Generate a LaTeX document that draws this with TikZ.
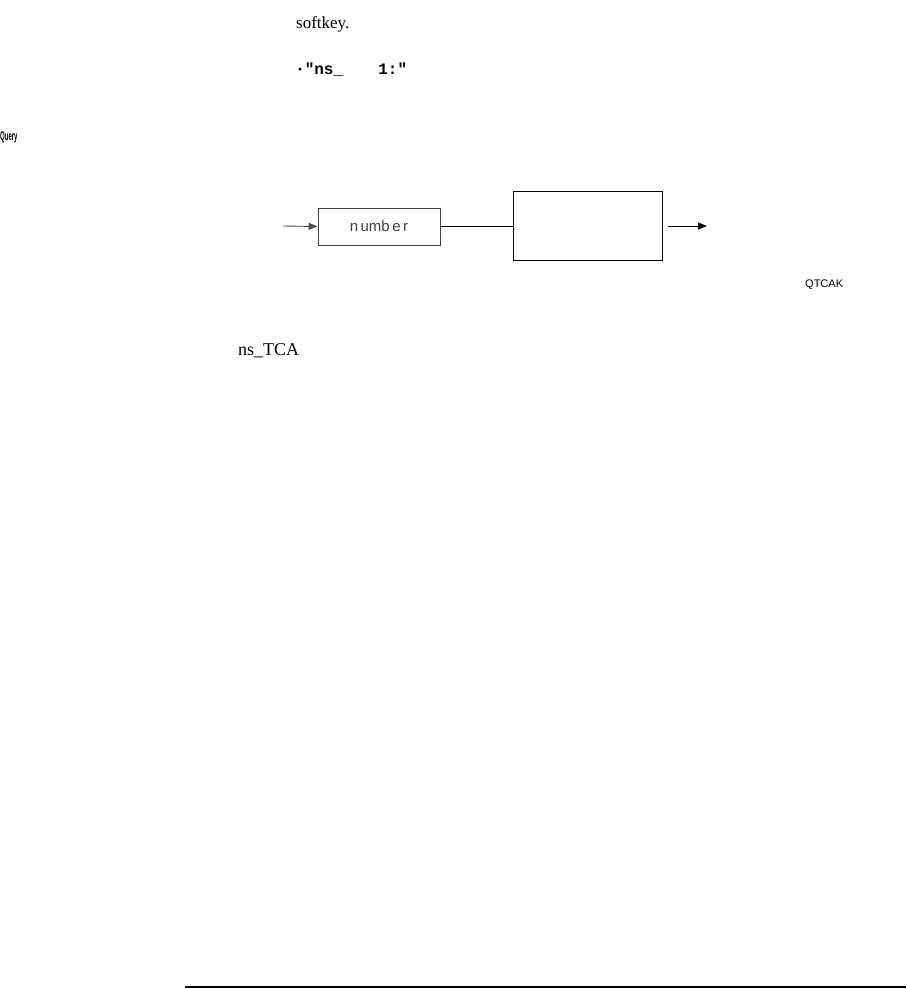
\documentclass[tikz,border=0pt]{standalone}
\usepackage{fontspec}
\setmainfont{Liberation Serif}
\newfontfamily\monofnt{Liberation Mono}
\newfontfamily\sansfnt{Liberation Sans}
\usetikzlibrary{arrows.meta}
\tikzset{
  txt/.style={inner sep=0pt, anchor=base west},
  boxstyle/.style={draw, line width=0.9pt, inner sep=0pt},
  conn/.style={line width=0.9pt},
  arr/.style={conn, -{Triangle[length=9pt,width=7pt]}}
}
\begin{document}
\begin{tikzpicture}[x=1pt,y=-1pt]
\useasboundingbox (0,0) rectangle (906,989);
% texts
\node[txt, font=\fontsize{17}{20}\selectfont] (soft) at (296,28) {softkey.};
\node[txt, font=\monofnt\bfseries\fontsize{16}{18}\selectfont] (cmd) at (298,74) {\raisebox{3pt}{\scalebox{0.45}{$\bullet$}}\,"ns\_\hspace{2.2em}1:"};
\node[txt, font=\sansfnt\bfseries\fontsize{12}{14}\selectfont] (query) at (0,140) {\scalebox{0.5}[1.05]{Query}};
\node[txt, font=\sansfnt\fontsize{11}{13}\selectfont] (qtcak) at (805,287) {QTCAK};
\node[txt, font=\fontsize{18}{21}\selectfont] (nstca) at (238,355) {ns\_TCA};
% diagram
\coordinate (in) at (283,226);
\node[boxstyle, draw=black!75, minimum width=122pt, minimum height=37pt, font=\sansfnt\fontsize{15}{17}\selectfont, text=black!75] (num) at (379,226.5) {n\,umb\,e\,r};
\node[boxstyle, minimum width=149pt, minimum height=69pt] (blk) at (587.5,225.5) {};
\coordinate (outs) at (668,226);
\coordinate (oute) at (707,226);
\draw[arr, black!70] (in) -- (num.west);
\draw[conn] (num.east) -- (num.east -| blk.west);
\draw[arr] (outs) -- (oute);
% bottom rule
\coordinate (r1) at (185,987);
\coordinate (r2) at (906,987);
\draw[line width=2pt] (r1) -- (r2);
\end{tikzpicture}
\end{document}
